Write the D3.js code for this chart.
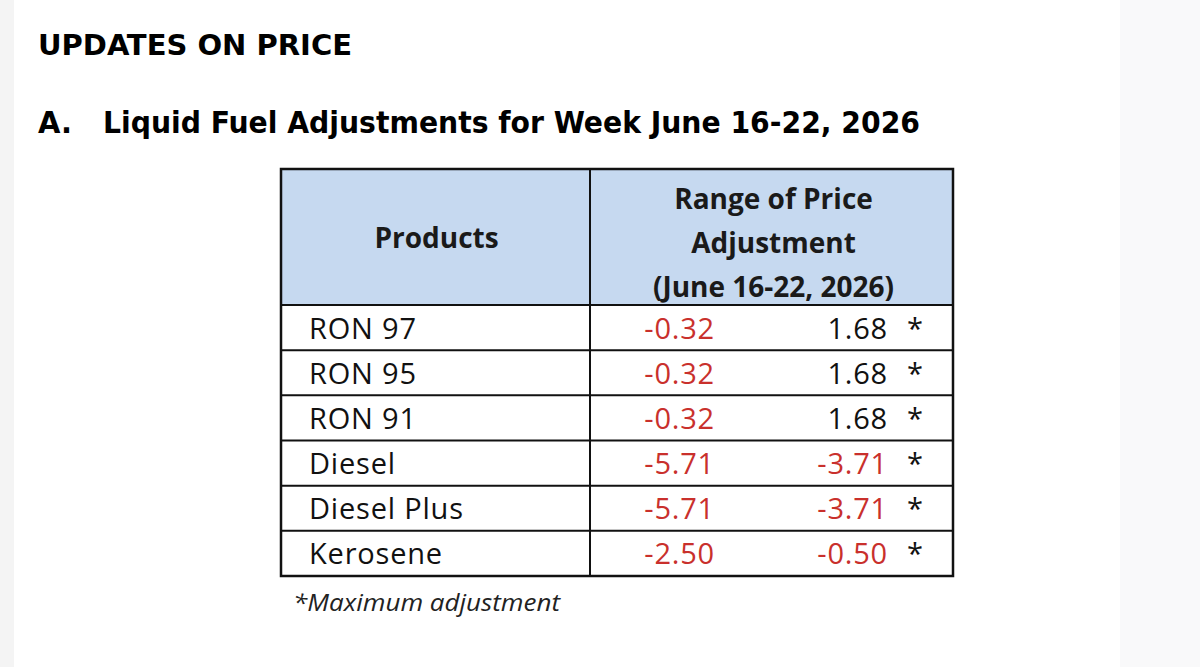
<!DOCTYPE html>
<html>
<head>
<meta charset="utf-8">
<script src="https://cdn.jsdelivr.net/npm/d3@7"></script>
<style>
  body { margin: 0; background: #fff; }
  svg { display: block; }
</style>
</head>
<body>
<div id="chart"></div>
<script>
/* DATA */
const products = ["RON 97", "RON 95", "RON 91", "Diesel", "Diesel Plus", "Kerosene"];
const minAdjust = [-0.32, -0.32, -0.32, -5.71, -5.71, -2.50];
const maxAdjust = [1.68, 1.68, 1.68, -3.71, -3.71, -0.50];
const headerLines = ["Range of Price", "Adjustment", "(June 16-22, 2026)"];

const width = 1200, height = 667;
const table = { left: 281, right: 953, top: 169, headerBottom: 305, bottom: 576, divider: 590 };

const svg = d3.select("#chart").append("svg")
  .attr("width", width)
  .attr("height", height);

// page background bits (slide edge + screen glare)
svg.append("rect").attr("x", 0).attr("y", 0).attr("width", 14).attr("height", height).attr("fill", "#f4f4f4");
svg.append("rect").attr("x", 1120).attr("y", 0).attr("width", 80).attr("height", height).attr("fill", "#f9f9fa");

// titles
const titleFont = "'DejaVu Sans Condensed', 'DejaVu Sans', sans-serif";
svg.append("text")
  .attr("x", 38).attr("y", 55)
  .attr("font-family", titleFont).attr("font-weight", "bold")
  .attr("font-size", 29)
  .attr("textLength", 314).attr("lengthAdjust", "spacingAndGlyphs")
  .text("UPDATES ON PRICE");

svg.append("text")
  .attr("x", 38).attr("y", 133)
  .attr("font-family", titleFont).attr("font-weight", "bold")
  .attr("font-size", 30)
  .attr("textLength", 34).attr("lengthAdjust", "spacingAndGlyphs")
  .text("A.");

svg.append("text")
  .attr("x", 103).attr("y", 133)
  .attr("font-family", titleFont).attr("font-weight", "bold")
  .attr("font-size", 30)
  .attr("textLength", 817).attr("lengthAdjust", "spacingAndGlyphs")
  .text("Liquid Fuel Adjustments for Week June 16-22, 2026");

// scales
const y = d3.scaleBand()
  .domain(products)
  .range([table.headerBottom, table.bottom]);

const headY = d3.scaleBand()
  .domain(headerLines)
  .range([table.top + 8, table.headerBottom + 4]);

const x = d3.scaleOrdinal()
  .domain(["name", "min", "max", "star"])
  .range([309, 715, 888, 915]);

const tableFont = "'Open Sans', Lato, sans-serif";
const red = "#c9302c";

// header
svg.append("rect")
  .attr("x", table.left).attr("y", table.top)
  .attr("width", table.right - table.left)
  .attr("height", table.headerBottom - table.top)
  .attr("fill", "#c6d9f0");

svg.append("text")
  .attr("x", (table.left + table.divider) / 2 + 1)
  .attr("y", 248)
  .attr("text-anchor", "middle")
  .attr("font-family", tableFont).attr("font-weight", "bold")
  .attr("font-size", 28)
  .attr("fill", "#1a1a1a")
  .text("Products");

svg.selectAll("text.head")
  .data(headerLines)
  .join("text")
  .attr("class", "head")
  .attr("x", (table.divider + table.right) / 2 + 2)
  .attr("y", d => headY(d) + headY.bandwidth() / 2 + 10)
  .attr("text-anchor", "middle")
  .attr("font-family", tableFont).attr("font-weight", "bold")
  .attr("font-size", 28)
  .attr("fill", "#1a1a1a")
  .text(d => d);

// rows
const rows = svg.selectAll("g.row")
  .data(products.map((p, i) => ({ name: p, min: minAdjust[i], max: maxAdjust[i] })))
  .join("g")
  .attr("class", "row")
  .attr("transform", d => `translate(0,${y(d.name) + y.bandwidth() / 2 + 11})`);

rows.append("text")
  .attr("x", x("name"))
  .attr("font-family", tableFont).attr("font-size", 29)
  .attr("letter-spacing", 0.8)
  .attr("fill", "#111")
  .text(d => d.name);

rows.append("text")
  .attr("x", x("min"))
  .attr("text-anchor", "end")
  .attr("font-family", tableFont).attr("font-size", 29)
  .attr("letter-spacing", 0.8)
  .attr("fill", d => d.min < 0 ? red : "#111")
  .text(d => d.min.toFixed(2));

rows.append("text")
  .attr("x", x("max"))
  .attr("text-anchor", "end")
  .attr("font-family", tableFont).attr("font-size", 29)
  .attr("letter-spacing", 0.8)
  .attr("fill", d => d.max < 0 ? red : "#111")
  .text(d => d.max.toFixed(2));

rows.append("text")
  .attr("x", x("star"))
  .attr("text-anchor", "middle")
  .attr("font-family", tableFont).attr("font-size", 29)
  .attr("fill", "#111")
  .text("*");

// grid lines
const lineYs = [table.headerBottom].concat(products.slice(1).map(p => y(p)));
svg.selectAll("line.hline")
  .data(lineYs)
  .join("line")
  .attr("class", "hline")
  .attr("x1", table.left).attr("x2", table.right)
  .attr("y1", d => d).attr("y2", d => d)
  .attr("stroke", "#111").attr("stroke-width", 2);

svg.append("line")
  .attr("x1", table.divider).attr("x2", table.divider)
  .attr("y1", table.top).attr("y2", table.bottom)
  .attr("stroke", "#111").attr("stroke-width", 2);

svg.append("rect")
  .attr("x", table.left).attr("y", table.top)
  .attr("width", table.right - table.left)
  .attr("height", table.bottom - table.top)
  .attr("fill", "none")
  .attr("stroke", "#111").attr("stroke-width", 2.5);

// footnote
svg.append("text")
  .attr("x", 293).attr("y", 611)
  .attr("font-family", tableFont).attr("font-style", "italic")
  .attr("font-size", 24)
  .attr("textLength", 267).attr("lengthAdjust", "spacingAndGlyphs")
  .attr("fill", "#222")
  .text("*Maximum adjustment");
</script>
</body>
</html>
